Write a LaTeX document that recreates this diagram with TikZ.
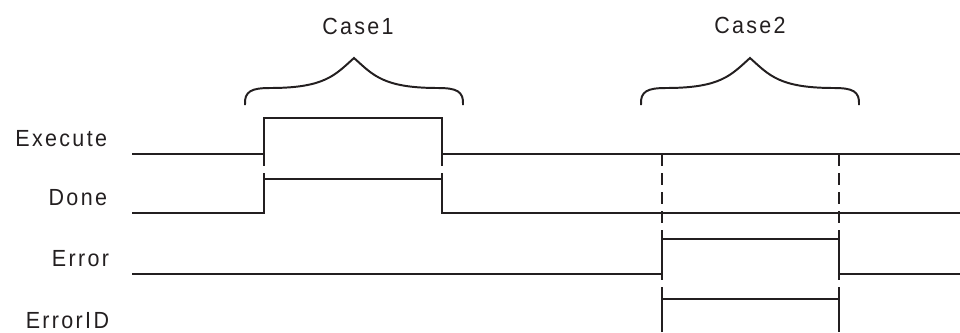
\documentclass[tikz,border=0pt]{standalone}
\usepackage{fontspec}
\setmainfont{Liberation Sans}[FakeStretch=0.92,LetterSpace=10]
\usepackage{tikz}
\definecolor{ink}{HTML}{231F20}

\begin{document}
\begin{tikzpicture}[x=0.025cm,y=-0.025cm,line width=1.4pt,color=ink,font=\fontsize{16.6}{19}\selectfont]
\useasboundingbox (0,0) rectangle (960,332);
\tikzset{lbl/.style={anchor=base east,inner sep=0pt},
  mark line/.style={dash pattern=on 0.3cm off 0.175cm,line width=1.6pt}}
\node[lbl] (exec) at (108,146.7) {Execute};
\node[lbl] (done) at (108,205) {Done};
\node[lbl] (err) at (110,266.7) {Error};
\node[lbl] (errid) at (110,328) {ErrorID};
\node[anchor=base,inner sep=0pt] (case1) at (358,34) {Case1};
\node[anchor=base,inner sep=0pt] (case2) at (750,33.5) {Case2};
% signals
\draw (132,154)--(264,154)--(264,118)--(442,118)--(442,154)--(960,154);
\draw (132,213)--(264,213)--(264,179)--(442,179)--(442,213)--(960,213);
\draw (264,173)--(264,179);
\draw (442,173)--(442,179);
\draw (132,274)--(662,274)--(662,239)--(839,239)--(839,274)--(960,274);
\draw (662,332)--(662,299)--(839,299)--(839,332);
% markers
\draw[mark line] (264,154)--(264,173);
\draw[mark line] (442,154)--(442,173);
\draw[mark line] (662,154)--(662,332);
\draw[mark line] (839,154)--(839,332);
% braces
\draw[line width=1.4pt] (245,105) .. controls (244,91) and (252,88) .. (270,88)
  .. controls (325,88) and (335,75) .. (354,58)
  .. controls (373,75) and (383,88) .. (438,88)
  .. controls (456,88) and (464,91) .. (463,105);
\draw[line width=1.4pt] (641,105) .. controls (640,91) and (648,88) .. (666,88)
  .. controls (721,88) and (731,75) .. (750,58)
  .. controls (769,75) and (779,88) .. (834,88)
  .. controls (852,88) and (860,91) .. (859,105);
\end{tikzpicture}
\end{document}
